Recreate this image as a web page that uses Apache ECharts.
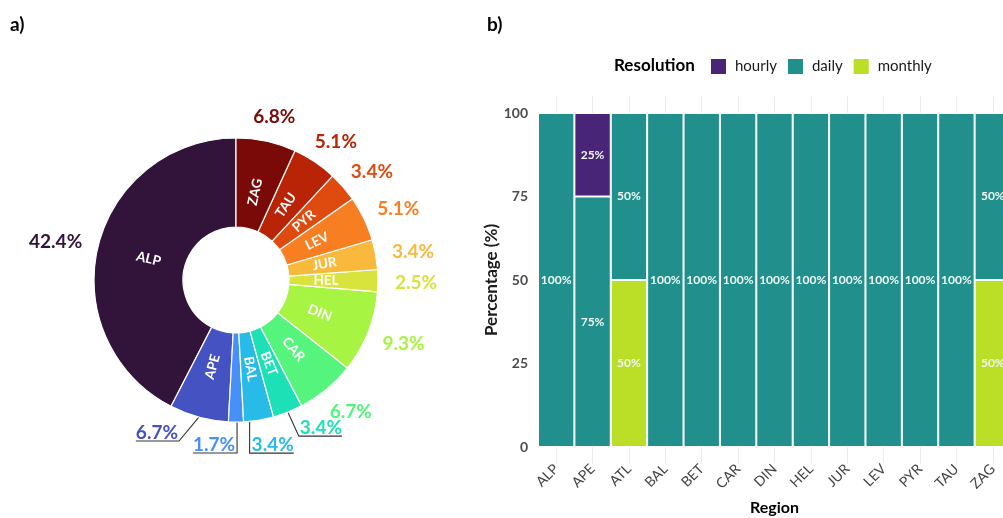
<!DOCTYPE html>
<html>
<head>
<meta charset="utf-8">
<script src="https://cdn.jsdelivr.net/npm/echarts@6/dist/echarts.min.js"></script>
<style>
  html, body { margin: 0; padding: 0; background: #ffffff; }
  #chart { width: 1003px; height: 518px; }
</style>
</head>
<body>
<div id="chart"></div>
<script>
// Regions (alphabetical) and their share of stations, in percent
const regions = ['ALP', 'APE', 'ATL', 'BAL', 'BET', 'CAR', 'DIN', 'HEL', 'JUR', 'LEV', 'PYR', 'TAU', 'ZAG'];
const sharePct = [42.4, 6.7, 1.7, 3.4, 3.4, 6.7, 9.3, 2.5, 3.4, 5.1, 3.4, 5.1, 6.8];
const regionColors = ['#32133a', '#4452c2', '#4690f8', '#29bbe8', '#1ee0b6', '#55f47c', '#a7f542',
                      '#d8e43c', '#f8b93c', '#f87e22', '#df4a0e', '#b92306', '#7a0a08'];

// Temporal resolution per region, in percent of that region's series
const hourly  = [0, 25, 0, 0, 0, 0, 0, 0, 0, 0, 0, 0, 0];
const daily   = [100, 75, 50, 100, 100, 100, 100, 100, 100, 100, 100, 100, 50];
const monthly = [0, 0, 50, 0, 0, 0, 0, 0, 0, 0, 0, 0, 50];
const resolutionNames = ['hourly', 'daily', 'monthly'];
const resolutionColors = ['#482576', '#21908c', '#bbdf27'];
const yTicks = [0, 25, 50, 75, 100];

// Donut geometry (px)
const CX = 236, CY = 280, R_IN = 53, R_OUT = 142, R_LAB = 159;
const FONT = 'Lato, "Open Sans", sans-serif';

// Small slices whose labels sit below the donut with a leader line and underline
const callouts = {
  APE: { dx: -42, dy: 16, kind: 'left' },
  ATL: { dx: -22, dy: 23, kind: 'leftV' },
  BAL: { dx: 14, dy: 25, kind: 'rightV' },
  BET: { dx: 33, dy: 16, kind: 'right' }
};

const total = sharePct.reduce((a, b) => a + b, 0);
function midAngle(i) {
  let before = 0;
  for (let k = 0; k < i; k++) before += sharePct[k];
  const frac = (before + sharePct[i] / 2) / total;
  return Math.PI / 2 + frac * Math.PI * 2; // counter-clockwise from the top
}
function circleY(x) {
  const d = x - CX;
  return CY + Math.sqrt(Math.max(0, R_OUT * R_OUT - d * d));
}

function pctLabelLayout(p) {
  const i = p.dataIndex;
  const a = midAngle(i);
  const ux = Math.cos(a), uy = -Math.sin(a);
  const w = p.labelRect.width, h = p.labelRect.height;
  const co = callouts[regions[i]];
  if (!co) {
    return {
      x: CX + ux * R_LAB + ux * w / 2,
      y: CY + uy * R_LAB + uy * h / 2 + 2,
      align: 'center', verticalAlign: 'middle'
    };
  }
  const ex = CX + ux * R_OUT, ey = CY + uy * R_OUT;
  const lx = ex + co.dx, ly = ey + co.dy;
  const left = lx - w / 2, right = lx + w / 2, lineY = ly + h * 0.42;
  let pts;
  if (co.kind === 'left') {
    pts = [[ex, ey], [right + 1, lineY], [left, lineY]];
  } else if (co.kind === 'right') {
    pts = [[ex, ey], [left - 1, lineY], [right, lineY]];
  } else if (co.kind === 'leftV') {
    const vx = right + 2;
    pts = [[vx, circleY(vx)], [vx, lineY], [left, lineY]];
  } else {
    const vx = left - 2;
    pts = [[vx, circleY(vx)], [vx, lineY], [right, lineY]];
  }
  return { x: lx, y: ly, align: 'center', verticalAlign: 'middle', labelLinePoints: pts };
}

const pieData = regions.map((name, i) => ({
  name: name,
  value: sharePct[i],
  itemStyle: { color: regionColors[i] },
  label: { color: regionColors[i] },
  labelLine: { show: !!callouts[name] }
}));

const nameData = regions.map((name, i) => ({ name: name, value: sharePct[i] }));

function barSeries(name, values, color) {
  return {
    name: name,
    type: 'bar',
    stack: 'res',
    xAxisIndex: 0,
    yAxisIndex: 0,
    barCategoryGap: '0%',
    data: values.map(v => (v > 0 ? v : null)),
    itemStyle: { color: color, borderColor: '#ffffff', borderWidth: 1 },
    label: {
      show: true,
      position: 'inside',
      formatter: p => p.value + '%',
      color: '#f2f7f5',
      fontFamily: FONT,
      fontWeight: 'bold',
      fontSize: 12
    }
  };
}

const option = {
  animation: false,
  backgroundColor: '#ffffff',
  textStyle: { fontFamily: FONT },
  title: [
    { text: 'a)', left: 10, top: 15, padding: 0,
      textStyle: { fontFamily: FONT, fontSize: 19, fontWeight: 'bold', color: '#000' } },
    { text: 'b)', left: 487, top: 15, padding: 0,
      textStyle: { fontFamily: FONT, fontSize: 19, fontWeight: 'bold', color: '#000' } },
    { text: 'Resolution', left: 614, top: 57, padding: 0,
      textStyle: { fontFamily: FONT, fontSize: 17, fontWeight: 'bold', color: '#000' } }
  ],
  legend: {
    data: resolutionNames,
    left: 709,
    top: 57,
    padding: 0,
    icon: 'rect',
    itemWidth: 17,
    itemHeight: 17,
    itemGap: 9,
    textStyle: { fontFamily: FONT, fontSize: 15, color: '#1a1a1a', padding: [0, 0, 0, 3] },
    selectedMode: false
  },
  grid: { left: 538, top: 96.3, width: 473, height: 367.4, outerBoundsMode: 'none', containLabel: false },
  xAxis: {
    type: 'category',
    data: regions,
    axisLine: { show: false, onZero: false },
    axisTick: {
      show: true, alignWithLabel: true, inside: true, length: 367.4,
      lineStyle: { color: '#ebebeb', width: 1 }
    },
    axisLabel: { rotate: 45, margin: 3, color: '#444444', fontSize: 14, fontFamily: FONT },
    splitLine: { show: false },
    name: 'Region',
    nameLocation: 'middle',
    nameGap: 36,
    nameTextStyle: { fontFamily: FONT, fontSize: 16, fontWeight: 'bold', color: '#000' }
  },
  yAxis: {
    type: 'value',
    min: -5,
    max: 105,
    axisLine: { show: false },
    axisTick: { show: false },
    splitLine: { show: false },
    axisLabel: {
      customValues: yTicks,
      margin: 10,
      color: '#4d4d4d',
      fontSize: 14,
      fontWeight: 'bold',
      fontFamily: FONT
    },
    name: 'Percentage (%)',
    nameLocation: 'middle',
    nameGap: 38,
    nameTextStyle: { fontFamily: FONT, fontSize: 17, fontWeight: 'bold', color: '#1a1a1a' }
  },
  series: [
    {
      type: 'pie',
      center: [CX, CY],
      radius: [R_IN, R_OUT],
      startAngle: 90,
      clockwise: false,
      avoidLabelOverlap: false,
      silent: true,
      data: pieData,
      itemStyle: { borderColor: '#ffffff', borderWidth: 1.2 },
      label: {
        show: true,
        position: 'outside',
        formatter: p => p.value.toFixed(1) + '%',
        fontFamily: FONT,
        fontWeight: 'bold',
        fontSize: 19
      },
      labelLine: { show: false, lineStyle: { color: '#333333', width: 1.1 } },
      labelLayout: pctLabelLayout
    },
    {
      type: 'pie',
      center: [CX, CY],
      radius: [R_IN, 121],
      startAngle: 90,
      clockwise: false,
      silent: true,
      z: 3,
      data: nameData,
      itemStyle: { color: 'rgba(0,0,0,0)', borderWidth: 0 },
      label: {
        show: true,
        position: 'inside',
        rotate: 'radial',
        formatter: '{b}',
        color: '#ffffff',
        fontFamily: FONT,
        fontWeight: 'bold',
        fontSize: 13.5
      },
      labelLine: { show: false }
    },
    barSeries('monthly', monthly, resolutionColors[2]),
    barSeries('daily', daily, resolutionColors[1]),
    barSeries('hourly', hourly, resolutionColors[0])
  ]
};

const chart = echarts.init(document.getElementById('chart'), null, { renderer: 'canvas' });
chart.setOption(option);
</script>
</body>
</html>
